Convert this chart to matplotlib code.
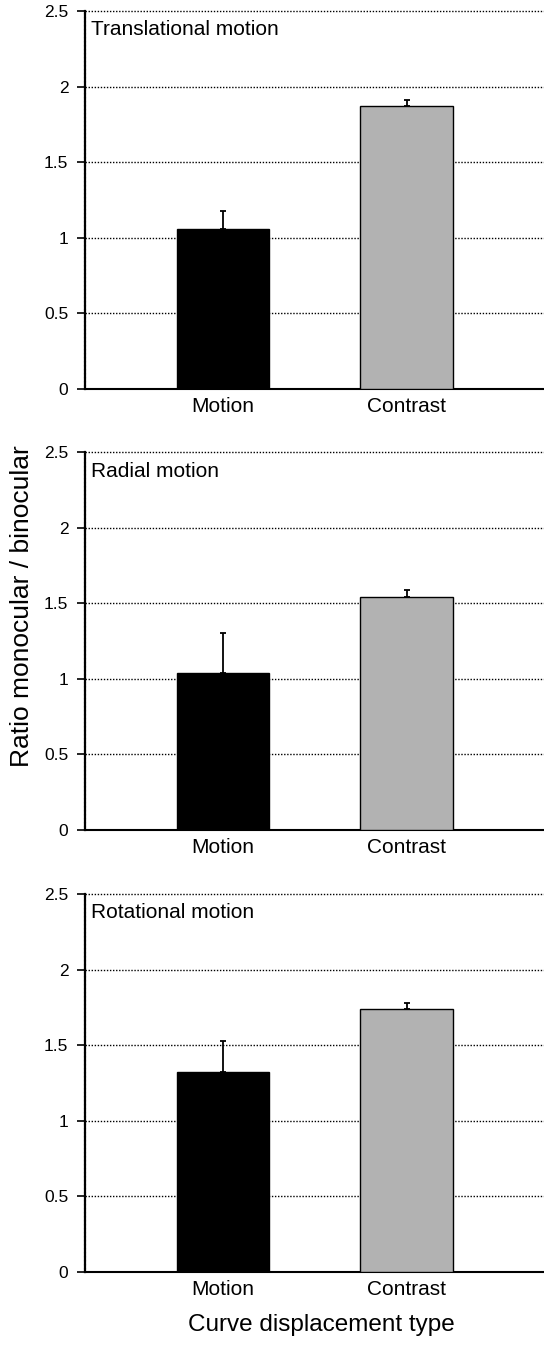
import matplotlib
matplotlib.use("Agg")
import matplotlib.pyplot as plt

plt.rcParams['font.family'] = ['Liberation Sans', 'DejaVu Sans']

categories = ["Motion", "Contrast"]
panel_titles = ["Translational motion", "Radial motion", "Rotational motion"]
ratios = [
    [1.06, 1.87],
    [1.04, 1.54],
    [1.32, 1.74],
]
errors = [
    [0.12, 0.04],
    [0.26, 0.05],
    [0.21, 0.04],
]
yticks = [0, 0.5, 1, 1.5, 2, 2.5]
ytick_labels = ["0", "0.5", "1", "1.5", "2", "2.5"]
bar_colors = ["#000000", "#b2b2b2"]

fig = plt.figure(figsize=(5.44, 13.45), dpi=100)

# axes boxes in figure fractions, top panel first
bottoms = [0.7108, 0.3829, 0.0543]
height = 0.2810
left = 0.15625
width = 0.84375

for i in range(3):
    ax = fig.add_axes([left, bottoms[i], width, height])
    xs = range(len(categories))
    ax.bar(xs, ratios[i], width=0.505, color=bar_colors,
           edgecolor="black", linewidth=1.0, zorder=3)
    ax.errorbar(xs, ratios[i], yerr=[[0, 0], errors[i]], fmt="none",
                ecolor="black", elinewidth=1.3, capsize=2.5, capthick=1.3,
                zorder=4)
    ax.set_xlim(-0.75, 1.745)
    ax.set_ylim(0, 2.5)
    ax.set_yticks(yticks)
    ax.set_yticklabels(ytick_labels)
    ax.set_xticks(list(xs))
    ax.set_xticklabels(categories, fontsize=15)
    ax.tick_params(axis="x", length=0, pad=6)
    ax.tick_params(axis="y", direction="out", length=6, width=1.2,
                   labelsize=12.5, pad=6)
    for y in yticks[1:]:
        ax.axhline(y, color="black", linestyle=(0, (1, 1.2)),
                   linewidth=1.0, zorder=1, clip_on=False)
    ax.spines["right"].set_visible(False)
    ax.spines["top"].set_visible(False)
    ax.spines["left"].set_linestyle((0, (1, 0.8)))
    ax.spines["left"].set_linewidth(1.6)
    ax.spines["bottom"].set_linewidth(1.5)
    ax.text(0.012, 0.975, panel_titles[i], transform=ax.transAxes,
            ha="left", va="top", fontsize=15)

fig.text(0.04, (1345 - 606) / 1345, "Ratio monocular / binocular",
         rotation=90, ha="center", va="center", fontsize=19)
fig.text(321 / 544, 1 - 1325 / 1345, "Curve displacement type",
         ha="center", va="center", fontsize=17.5)

fig.savefig("out.png", dpi=100)
